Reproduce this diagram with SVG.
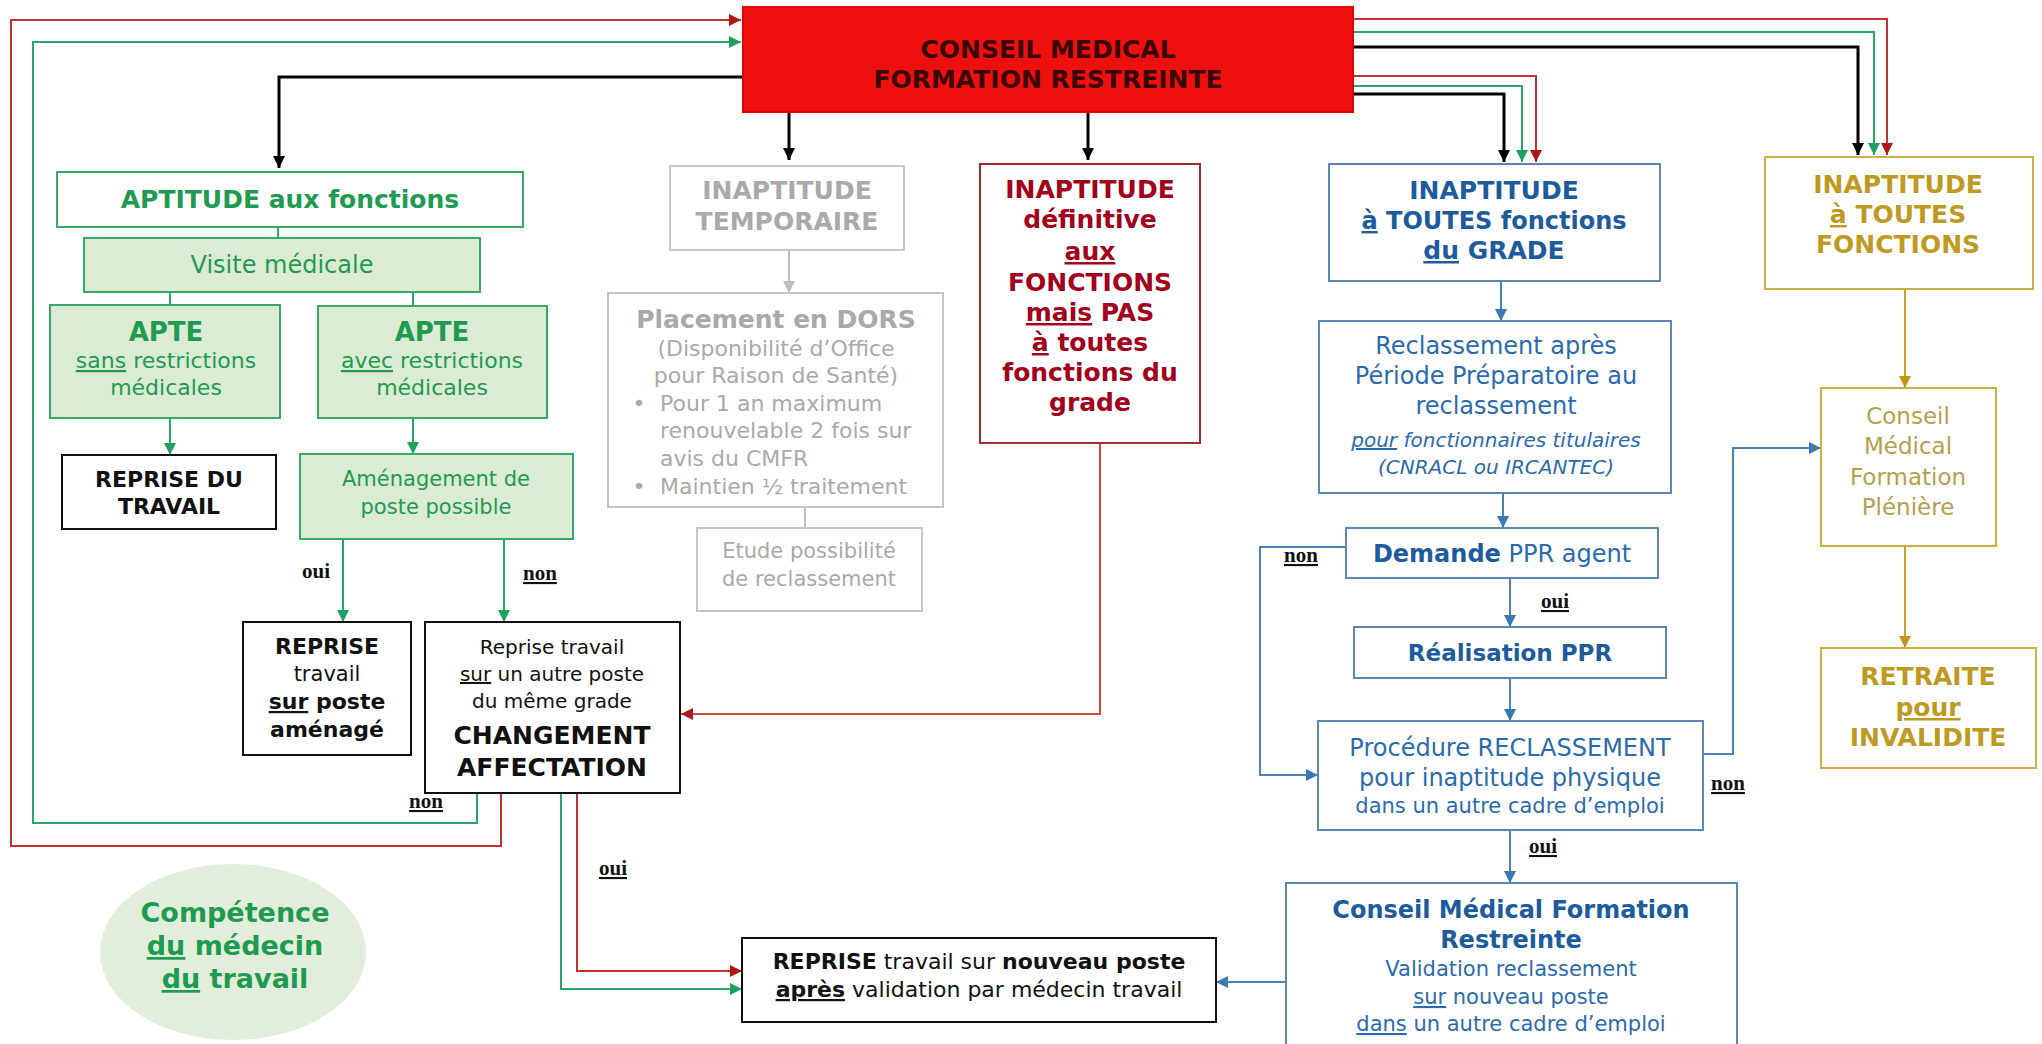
<svg xmlns="http://www.w3.org/2000/svg" width="2042" height="1044" viewBox="0 0 2042 1044">
<defs>
<style>
text{font-family:"DejaVu Sans",Verdana,sans-serif;text-anchor:middle}
.b{font-weight:bold}
.i{font-style:italic}
.u{text-decoration:underline double #2f5fa8;text-decoration-line:underline;text-decoration-style:double;text-decoration-color:#2f5fa8}
.lab{font-family:"Liberation Serif","Times New Roman",serif;font-weight:bold;font-size:21px;fill:#111}
rect,ellipse{stroke-width:2}
.gbx{fill:#fff;stroke:#3aa865}
.gfill{fill:#dcebd4;stroke:#3aa865}
.kbx{fill:#fff;stroke:#111}
.grbx{fill:#fff;stroke:#c6c6c6}
.rbx{fill:#fff;stroke:#a52a2a}
.blbx{fill:#fff;stroke:#5a87b4}
.ybx{fill:#fff;stroke:#cdb040}
.cg{fill:#1e9b50}.ck{fill:#111}.cgr{fill:#a9a9a9}.cr{fill:#a3001b}.cbl{fill:#2a6aae}.cbd{fill:#1d5c9c}.cy{fill:#bf9a22}.cyl{fill:#b59f4c}
.ln{fill:none;stroke-width:2}
.lk{stroke:#000;stroke-width:3}
.lr{stroke:#c43030}
.lg{stroke:#2aa769}
.lgr{stroke:#c0c0c0}
.lbl{stroke:#4a82b8}
.ly{stroke:#c9a22a}
.ldr{stroke:#d04848}
</style>
<marker id="mk" viewBox="0 0 10 10" refX="10" refY="5" markerWidth="13" markerHeight="12" markerUnits="userSpaceOnUse" orient="auto"><path d="M0,0L10,5L0,10z" fill="#000"/></marker>
<marker id="mr" viewBox="0 0 10 10" refX="10" refY="5" markerWidth="13" markerHeight="12" markerUnits="userSpaceOnUse" orient="auto"><path d="M0,0L10,5L0,10z" fill="#b01818"/></marker>
<marker id="mg" viewBox="0 0 10 10" refX="10" refY="5" markerWidth="13" markerHeight="12" markerUnits="userSpaceOnUse" orient="auto"><path d="M0,0L10,5L0,10z" fill="#1fa060"/></marker>
<marker id="mgr" viewBox="0 0 10 10" refX="10" refY="5" markerWidth="13" markerHeight="12" markerUnits="userSpaceOnUse" orient="auto"><path d="M0,0L10,5L0,10z" fill="#bdbdbd"/></marker>
<marker id="mb" viewBox="0 0 10 10" refX="10" refY="5" markerWidth="13" markerHeight="12" markerUnits="userSpaceOnUse" orient="auto"><path d="M0,0L10,5L0,10z" fill="#3a78b0"/></marker>
<marker id="my" viewBox="0 0 10 10" refX="10" refY="5" markerWidth="13" markerHeight="12" markerUnits="userSpaceOnUse" orient="auto"><path d="M0,0L10,5L0,10z" fill="#c0951a"/></marker>
</defs>
<rect x="0" y="0" width="2042" height="1044" fill="#fff"/>

<g id="connectors" class="ln">
  <path class="ln lr" d="M501,793V846H11V20H741" marker-end="url(#mr)"/>
  <path class="ln lg" d="M477,793V823H33V42H741" marker-end="url(#mg)"/>
  <path class="ln lk" d="M743,77H279V168" marker-end="url(#mk)"/>
  <path class="ln lk" d="M789,112V160" marker-end="url(#mk)"/>
  <path class="ln lk" d="M1088,112V160" marker-end="url(#mk)"/>
  <path class="ln lk" d="M1353,94H1504V162" marker-end="url(#mk)"/>
  <path class="ln lg" d="M1353,86H1522V162" marker-end="url(#mg)"/>
  <path class="ln lr" d="M1353,76H1536V162" marker-end="url(#mr)"/>
  <path class="ln lk" d="M1353,47H1858V155" marker-end="url(#mk)"/>
  <path class="ln lg" d="M1353,32H1874V155" marker-end="url(#mg)"/>
  <path class="ln lr" d="M1353,19H1887V155" marker-end="url(#mr)"/>
  <path class="ln lg" d="M278,227V238M170,292V305M413,292V308"/>
  <path class="ln lg" d="M170,418V455" marker-end="url(#mg)"/>
  <path class="ln lg" d="M413,418V454" marker-end="url(#mg)"/>
  <path class="ln lg" d="M343,539V622" marker-end="url(#mg)"/>
  <path class="ln lg" d="M504,539V622" marker-end="url(#mg)"/>
  <path class="ln lgr" d="M789,250V293" marker-end="url(#mgr)"/>
  <path class="ln lgr" d="M805,507V528"/>
  <path class="ln ldr" d="M1100,443V714H681" marker-end="url(#mr)"/>
  <path class="ln lr" d="M577,793V971H742" marker-end="url(#mr)"/>
  <path class="ln lg" d="M561,793V989H742" marker-end="url(#mg)"/>
  <path class="ln lbl" d="M1501,281V321" marker-end="url(#mb)"/>
  <path class="ln lbl" d="M1503,493V528" marker-end="url(#mb)"/>
  <path class="ln lbl" d="M1510,578V627" marker-end="url(#mb)"/>
  <path class="ln lbl" d="M1510,678V721" marker-end="url(#mb)"/>
  <path class="ln lbl" d="M1346,547H1260V775H1318" marker-end="url(#mb)"/>
  <path class="ln lbl" d="M1703,754H1733V448H1821" marker-end="url(#mb)"/>
  <path class="ln lbl" d="M1510,830V883" marker-end="url(#mb)"/>
  <path class="ln lbl" d="M1286,982H1216" marker-end="url(#mb)"/>
  <path class="ln ly" d="M1905,289V388" marker-end="url(#my)"/>
  <path class="ln ly" d="M1905,546V648" marker-end="url(#my)"/>
  <text class="lab" x="316" y="578">oui</text>
  <text class="lab" x="540" y="580"><tspan class="u">non</tspan></text>
  <text class="lab" x="426" y="808"><tspan class="u">non</tspan></text>
  <text class="lab" x="613" y="875"><tspan class="u">oui</tspan></text>
  <text class="lab" x="1301" y="562"><tspan class="u">non</tspan></text>
  <text class="lab" x="1555" y="608"><tspan class="u">oui</tspan></text>
  <text class="lab" x="1728" y="790"><tspan class="u">non</tspan></text>
  <text class="lab" x="1543" y="853"><tspan class="u">oui</tspan></text>
</g>

<g id="cmfr-top">
  <rect x="743" y="7" width="610" height="105" fill="#ee0f0f" stroke="#e00000"/>
  <text class="b" x="1048" y="58" font-size="25" fill="#3a0606">CONSEIL MEDICAL</text>
  <text class="b" x="1048" y="88" font-size="25" fill="#3a0606">FORMATION RESTREINTE</text>
</g>

<g id="aptitude">
  <rect class="gbx" x="57" y="172" width="466" height="55"/>
  <text class="b cg" x="290" y="208" font-size="25">APTITUDE aux fonctions</text>
</g>
<g id="visite">
  <rect class="gfill" x="84" y="238" width="396" height="54"/>
  <text class="cg" x="282" y="273" font-size="24">Visite médicale</text>
</g>
<g id="apte-sans">
  <rect class="gfill" x="50" y="305" width="230" height="113"/>
  <text class="b cg" x="166" y="341" font-size="26">APTE</text>
  <text class="cg" x="166" y="368" font-size="22"><tspan class="u">sans</tspan> restrictions</text>
  <text class="cg" x="166" y="395" font-size="22">médicales</text>
</g>
<g id="apte-avec">
  <rect class="gfill" x="318" y="306" width="229" height="112"/>
  <text class="b cg" x="432" y="341" font-size="26">APTE</text>
  <text class="cg" x="432" y="368" font-size="22"><tspan class="u">avec</tspan> restrictions</text>
  <text class="cg" x="432" y="395" font-size="22">médicales</text>
</g>
<g id="reprise-travail">
  <rect class="kbx" x="62" y="455" width="214" height="74"/>
  <text class="b ck" x="169" y="487" font-size="22">REPRISE DU</text>
  <text class="b ck" x="169" y="514" font-size="22">TRAVAIL</text>
</g>
<g id="amenagement">
  <rect class="gfill" x="300" y="454" width="273" height="85"/>
  <text class="cg" x="436" y="486" font-size="21">Aménagement de</text>
  <text class="cg" x="436" y="514" font-size="21">poste possible</text>
</g>
<g id="reprise-amenage">
  <rect class="kbx" x="243" y="622" width="168" height="133"/>
  <text class="b ck" x="327" y="654" font-size="22">REPRISE</text>
  <text class="ck" x="327" y="681" font-size="21">travail</text>
  <text class="b ck" x="327" y="709" font-size="22"><tspan class="u">sur</tspan> poste</text>
  <text class="b ck" x="327" y="737" font-size="22">aménagé</text>
</g>
<g id="changement">
  <rect class="kbx" x="425" y="622" width="255" height="171"/>
  <text class="ck" x="552" y="654" font-size="20">Reprise travail</text>
  <text class="ck" x="552" y="681" font-size="20"><tspan class="u">sur</tspan> un autre poste</text>
  <text class="ck" x="552" y="708" font-size="20">du même grade</text>
  <text class="b ck" x="552" y="744" font-size="25">CHANGEMENT</text>
  <text class="b ck" x="552" y="776" font-size="25">AFFECTATION</text>
</g>
<g id="competence">
  <ellipse cx="233" cy="952" rx="133" ry="88" fill="#e2eedb" stroke="none"/>
  <text class="b cg" x="235" y="922" font-size="27">Compétence</text>
  <text class="b cg" x="235" y="955" font-size="27"><tspan class="u">du</tspan> médecin</text>
  <text class="b cg" x="235" y="988" font-size="27"><tspan class="u">du</tspan> travail</text>
</g>
<g id="reprise-nouveau">
  <rect class="kbx" x="742" y="938" width="474" height="84"/>
  <text class="ck" x="979" y="969" font-size="22"><tspan class="b">REPRISE</tspan> travail sur <tspan class="b">nouveau poste</tspan></text>
  <text class="ck" x="979" y="997" font-size="22"><tspan class="b u">après</tspan> validation par médecin travail</text>
</g>

<g id="inaptitude-temporaire">
  <rect class="grbx" x="670" y="166" width="234" height="84"/>
  <text class="b cgr" x="787" y="199" font-size="25">INAPTITUDE</text>
  <text class="b cgr" x="787" y="230" font-size="25">TEMPORAIRE</text>
</g>
<g id="dors">
  <rect class="grbx" x="608" y="293" width="335" height="214"/>
  <text class="b cgr" x="776" y="328" font-size="25">Placement en DORS</text>
  <text class="cgr" x="776" y="356" font-size="22">(Disponibilité d’Office</text>
  <text class="cgr" x="776" y="383" font-size="22">pour Raison de Santé)</text>
  <text class="cgr" x="639" y="411" font-size="22">•</text>
  <text class="cgr" x="660" y="411" font-size="22" style="text-anchor:start">Pour 1 an maximum</text>
  <text class="cgr" x="660" y="438" font-size="22" style="text-anchor:start">renouvelable 2 fois sur</text>
  <text class="cgr" x="660" y="466" font-size="22" style="text-anchor:start">avis du CMFR</text>
  <text class="cgr" x="639" y="494" font-size="22">•</text>
  <text class="cgr" x="660" y="494" font-size="22" style="text-anchor:start">Maintien ½ traitement</text>
</g>
<g id="etude">
  <rect class="grbx" x="697" y="528" width="225" height="83"/>
  <text class="cgr" x="809" y="558" font-size="21">Etude possibilité</text>
  <text class="cgr" x="809" y="586" font-size="21">de reclassement</text>
</g>
<g id="inaptitude-definitive">
  <rect class="rbx" x="980" y="164" width="220" height="279"/>
  <text class="b cr" x="1090" y="198" font-size="25">INAPTITUDE</text>
  <text class="b cr" x="1090" y="228" font-size="25">définitive</text>
  <text class="b cr" x="1090" y="260" font-size="25"><tspan class="u">aux</tspan></text>
  <text class="b cr" x="1090" y="291" font-size="25">FONCTIONS</text>
  <text class="b cr" x="1090" y="321" font-size="25"><tspan class="u">mais</tspan> PAS</text>
  <text class="b cr" x="1090" y="351" font-size="25"><tspan class="u">à</tspan> toutes</text>
  <text class="b cr" x="1090" y="381" font-size="25">fonctions du</text>
  <text class="b cr" x="1090" y="411" font-size="25">grade</text>
</g>

<g id="inaptitude-grade">
  <rect class="blbx" x="1329" y="164" width="331" height="117"/>
  <text class="b cbd" x="1494" y="199" font-size="25">INAPTITUDE</text>
  <text class="b cbd" x="1494" y="229" font-size="24"><tspan class="u">à</tspan> TOUTES fonctions</text>
  <text class="b cbd" x="1494" y="259" font-size="25"><tspan class="u">du</tspan> GRADE</text>
</g>
<g id="reclassement-ppr">
  <rect class="blbx" x="1319" y="321" width="352" height="172"/>
  <text class="cbl" x="1496" y="354" font-size="24">Reclassement après</text>
  <text class="cbl" x="1496" y="384" font-size="24">Période Préparatoire au</text>
  <text class="cbl" x="1496" y="414" font-size="24">reclassement</text>
  <text class="cbl i" x="1496" y="447" font-size="20"><tspan class="u">pour</tspan> fonctionnaires titulaires</text>
  <text class="cbl i" x="1496" y="474" font-size="20">(CNRACL ou IRCANTEC)</text>
</g>
<g id="demande-ppr">
  <rect class="blbx" x="1346" y="528" width="312" height="50"/>
  <text class="cbl" x="1502" y="562" font-size="24"><tspan class="b cbd">Demande</tspan> PPR agent</text>
</g>
<g id="realisation-ppr">
  <rect class="blbx" x="1354" y="627" width="312" height="51"/>
  <text class="b cbd" x="1510" y="661" font-size="23">Réalisation PPR</text>
</g>
<g id="procedure">
  <rect class="blbx" x="1318" y="721" width="385" height="109"/>
  <text class="cbl" x="1510" y="756" font-size="24">Procédure RECLASSEMENT</text>
  <text class="cbl" x="1510" y="786" font-size="24">pour inaptitude physique</text>
  <text class="cbl" x="1510" y="813" font-size="21">dans un autre cadre d’emploi</text>
</g>
<g id="cmfr-validation">
  <rect class="blbx" x="1286" y="883" width="451" height="175"/>
  <text class="b cbd" x="1511" y="918" font-size="24">Conseil Médical Formation</text>
  <text class="b cbd" x="1511" y="948" font-size="24">Restreinte</text>
  <text class="cbl" x="1511" y="976" font-size="21">Validation reclassement</text>
  <text class="cbl" x="1511" y="1004" font-size="21"><tspan class="u">sur</tspan> nouveau poste</text>
  <text class="cbl" x="1511" y="1031" font-size="21"><tspan class="u">dans</tspan> un autre cadre d’emploi</text>
</g>

<g id="inaptitude-toutes">
  <rect class="ybx" x="1765" y="157" width="268" height="132"/>
  <text class="b cy" x="1898" y="193" font-size="25">INAPTITUDE</text>
  <text class="b cy" x="1898" y="223" font-size="25"><tspan class="u">à</tspan> TOUTES</text>
  <text class="b cy" x="1898" y="253" font-size="25">FONCTIONS</text>
</g>
<g id="cm-pleniere">
  <rect class="ybx" x="1821" y="388" width="175" height="158"/>
  <text class="cyl" x="1908" y="424" font-size="23">Conseil</text>
  <text class="cyl" x="1908" y="454" font-size="23">Médical</text>
  <text class="cyl" x="1908" y="485" font-size="23">Formation</text>
  <text class="cyl" x="1908" y="515" font-size="23">Plénière</text>
</g>
<g id="retraite">
  <rect class="ybx" x="1821" y="648" width="215" height="120"/>
  <text class="b cy" x="1928" y="685" font-size="25">RETRAITE</text>
  <text class="b cy" x="1928" y="716" font-size="25"><tspan class="u">pour</tspan></text>
  <text class="b cy" x="1928" y="746" font-size="25">INVALIDITE</text>
</g>
</svg>
